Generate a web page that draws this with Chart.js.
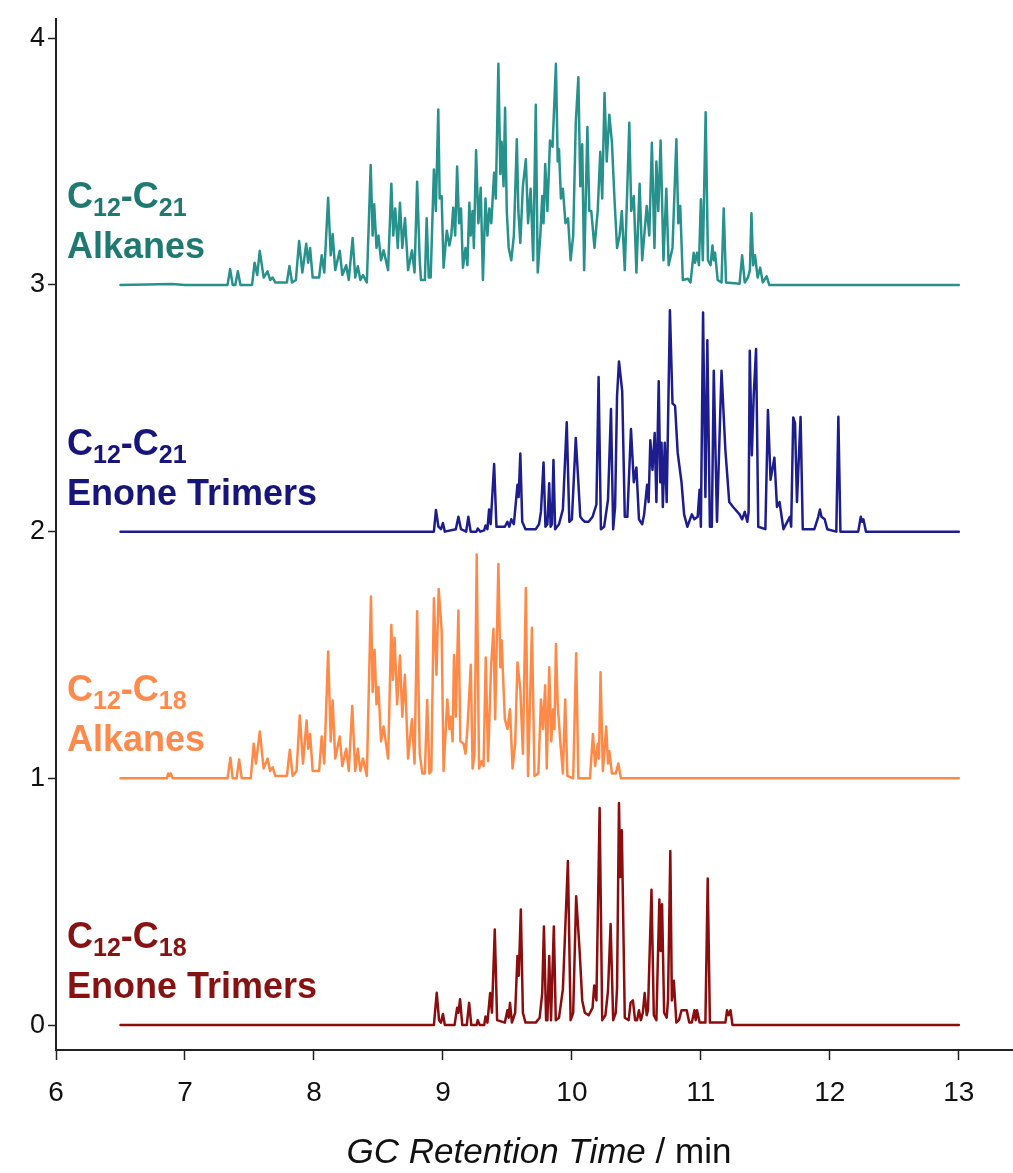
<!DOCTYPE html>
<html>
<head>
<meta charset="utf-8">
<script src="https://cdn.jsdelivr.net/npm/chart.js@4.4.1/dist/chart.umd.min.js"></script>
<style>
  html, body { margin: 0; padding: 0; background: #fff; }
  #chart { display: block; }
</style>
</head>
<body>
<canvas id="chart" width="1013" height="1173"></canvas>
<script>
// [retention time (min), signal] vertices
var alkanesC21 = [
  [6.5,0],[6.9,0.004],[7.0,0],[7.33,0],[7.35,0.064],[7.37,0],[7.39,0],[7.41,0.055],[7.43,0],
  [7.52,0],[7.54,0.09],[7.56,0.04],[7.58,0.138],[7.61,0.03],[7.64,0.055],[7.66,0.02],[7.68,0.03],[7.70,0.01],
  [7.79,0.01],[7.81,0.077],[7.83,0.01],[7.86,0.02],[7.885,0.178],[7.91,0.05],[7.94,0.167],[7.955,0.09],[7.97,0.15],
  [7.99,0.03],[8.04,0.03],[8.06,0.12],[8.08,0.05],[8.11,0.353],[8.13,0.12],[8.145,0.206],[8.165,0.06],[8.2,0.138],
  [8.22,0.04],[8.25,0.08],[8.27,0.02],[8.30,0.19],[8.32,0.03],[8.34,0.076],[8.36,0.02],[8.38,0.04],[8.41,0.01],
  [8.44,0.486],[8.455,0.2],[8.467,0.327],[8.485,0.15],[8.50,0.2],[8.52,0.1],[8.54,0.14],[8.575,0.06],[8.60,0.41],
  [8.615,0.2],[8.63,0.31],[8.65,0.15],[8.667,0.333],[8.685,0.15],[8.706,0.27],[8.73,0.06],[8.76,0.14],[8.78,0.05],
  [8.80,0.418],[8.82,0.1],[8.83,0.02],[8.86,0.02],[8.874,0.27],[8.89,0.03],[8.905,0.03],[8.93,0.468],[8.945,0.3],
  [8.964,0.711],[8.975,0.35],[8.99,0.36],[9.005,0.07],[9.03,0.22],[9.05,0.16],[9.065,0.2],[9.08,0.313],[9.095,0.2],
  [9.11,0.48],[9.125,0.25],[9.14,0.31],[9.155,0.07],[9.175,0.15],[9.19,0.08],[9.205,0.333],[9.215,0.2],[9.23,0.3],
  [9.24,0.15],[9.257,0.546],[9.275,0.25],[9.293,0.394],[9.31,0.02],[9.33,0.35],[9.345,0.2],[9.36,0.31],[9.375,0.25],
  [9.397,0.455],[9.41,0.35],[9.43,0.896],[9.445,0.45],[9.455,0.58],[9.47,0.4],[9.482,0.718],[9.495,0.3],[9.51,0.15],
  [9.53,0.1],[9.55,0.2],[9.573,0.59],[9.585,0.3],[9.60,0.17],[9.62,0.4],[9.643,0.509],[9.66,0.25],[9.68,0.39],
  [9.70,0.1],[9.72,0.73],[9.735,0.05],[9.755,0.2],[9.77,0.36],[9.78,0.25],[9.793,0.49],[9.81,0.3],[9.83,0.585],
  [9.85,0.56],[9.876,0.896],[9.89,0.5],[9.90,0.55],[9.915,0.35],[9.93,0.39],[9.95,0.25],[9.97,0.27],[9.99,0.1],
  [10.01,0.2],[10.03,0.657],[10.05,0.842],[10.065,0.4],[10.08,0.57],[10.095,0.06],[10.12,0.64],[10.135,0.3],
  [10.15,0.3],[10.175,0.15],[10.2,0.3],[10.22,0.54],[10.235,0.35],[10.253,0.778],[10.27,0.5],[10.29,0.69],
  [10.31,0.58],[10.33,0.35],[10.35,0.15],[10.37,0.2],[10.387,0.3],[10.41,0.06],[10.445,0.657],[10.46,0.3],
  [10.48,0.36],[10.50,0.05],[10.525,0.41],[10.545,0.1],[10.58,0.32],[10.60,0.2],[10.62,0.576],[10.64,0.15],
  [10.655,0.5],[10.67,0.3],[10.688,0.585],[10.71,0.1],[10.732,0.39],[10.75,0.08],[10.78,0.15],[10.81,0.59],
  [10.825,0.25],[10.84,0.32],[10.86,0.02],[10.90,0.025],[10.92,0.01],[10.944,0.13],[10.955,0.09],[10.97,0.13],
  [10.985,0.08],[11.0,0.347],[11.015,0.1],[11.037,0.70],[11.055,0.1],[11.075,0.08],[11.09,0.16],[11.1,0.1],
  [11.11,0.13],[11.13,0.02],[11.16,0.01],[11.177,0.31],[11.195,0.01],[11.30,0.005],[11.32,0.12],[11.34,0.01],
  [11.365,0.03],[11.38,0.06],[11.392,0.29],[11.405,0.08],[11.42,0.12],[11.44,0.03],[11.46,0.07],[11.48,0.01],
  [11.51,0.035],[11.53,0],[13.0,0]
];

var trimersC21 = [
  [6.5,0],[8.93,0],[8.946,0.088],[8.965,0.02],[8.985,0.01],[9.0,0.035],[9.015,0],[9.10,0.01],[9.12,0.06],[9.14,0.01],
  [9.18,0],[9.197,0.06],[9.215,0],[9.26,0],[9.27,0.013],[9.29,0],[9.32,0.005],[9.33,0.025],[9.345,0.01],[9.358,0.09],
  [9.37,0.03],[9.397,0.274],[9.415,0.02],[9.48,0.02],[9.5,0.04],[9.515,0.02],[9.53,0.05],[9.55,0.03],[9.578,0.19],
  [9.587,0.14],[9.6,0.317],[9.615,0.04],[9.64,0.01],[9.70,0.01],[9.72,0.01],[9.745,0.03],[9.76,0.08],[9.78,0.28],
  [9.795,0.02],[9.81,0.03],[9.824,0.196],[9.835,0.02],[9.845,0.03],[9.857,0.29],[9.87,0.01],[9.90,0.03],[9.93,0.09],
  [9.96,0.443],[9.98,0.04],[10.0,0.05],[10.03,0.38],[10.05,0.2],[10.065,0.06],[10.08,0.05],[10.1,0.04],[10.13,0.04],
  [10.16,0.06],[10.19,0.11],[10.207,0.627],[10.225,0.01],[10.25,0.02],[10.28,0.13],[10.303,0.497],[10.32,0.01],
  [10.335,0.1],[10.35,0.55],[10.365,0.69],[10.39,0.57],[10.41,0.06],[10.43,0.06],[10.458,0.416],[10.48,0.2],
  [10.50,0.26],[10.52,0.05],[10.545,0.03],[10.56,0.07],[10.583,0.19],[10.595,0.12],[10.608,0.37],[10.625,0.25],
  [10.642,0.4],[10.655,0.12],[10.673,0.61],[10.685,0.2],[10.695,0.36],[10.705,0.1],[10.72,0.36],[10.735,0.12],
  [10.76,0.897],[10.78,0.52],[10.80,0.51],[10.82,0.32],[10.85,0.2],[10.87,0.07],[10.895,0.02],[10.93,0.07],
  [10.95,0.05],[10.975,0.06],[10.99,0.17],[11.0,0.02],[11.017,0.888],[11.035,0.14],[11.05,0.776],[11.07,0.02],
  [11.085,0.02],[11.10,0.652],[11.125,0.04],[11.16,0.652],[11.19,0.33],[11.22,0.12],[11.25,0.1],[11.30,0.07],
  [11.32,0.05],[11.34,0.08],[11.36,0.04],[11.37,0.08],[11.379,0.733],[11.395,0.31],[11.41,0.557],[11.428,0.74],
  [11.445,0.02],[11.50,0.01],[11.52,0.493],[11.54,0.21],[11.57,0.3],[11.59,0.1],[11.61,0.12],[11.64,0.01],
  [11.69,0.06],[11.70,0.02],[11.716,0.463],[11.73,0.44],[11.745,0.12],[11.773,0.465],[11.79,0.01],[11.88,0.01],
  [11.91,0.06],[11.923,0.09],[11.935,0.06],[11.96,0.05],[11.98,0.01],[12.05,0],[12.066,0.466],[12.082,0],
  [12.22,0],[12.24,0.06],[12.25,0.04],[12.26,0.05],[12.28,0],[13.0,0]
];

var alkanesC18 = [
  [6.5,0],[6.86,0],[6.87,0.02],[6.88,0.01],[6.89,0.02],[6.905,0],[7.33,0],[7.352,0.084],[7.37,0],[7.40,0],
  [7.42,0.076],[7.44,0],[7.51,0],[7.533,0.14],[7.55,0.06],[7.58,0.19],[7.61,0.04],[7.64,0.08],[7.66,0.03],
  [7.68,0.045],[7.70,0.01],[7.79,0.01],[7.813,0.116],[7.835,0.01],[7.865,0.03],[7.89,0.255],[7.915,0.06],
  [7.943,0.235],[7.955,0.12],[7.97,0.18],[7.99,0.03],[8.04,0.03],[8.06,0.17],[8.08,0.06],[8.11,0.514],[8.13,0.15],
  [8.145,0.316],[8.165,0.08],[8.2,0.17],[8.22,0.05],[8.25,0.12],[8.27,0.03],[8.297,0.293],[8.32,0.03],[8.34,0.12],
  [8.36,0.03],[8.38,0.08],[8.41,0.01],[8.442,0.737],[8.455,0.35],[8.47,0.52],[8.485,0.3],[8.50,0.37],[8.52,0.15],
  [8.54,0.21],[8.575,0.08],[8.60,0.622],[8.612,0.4],[8.625,0.57],[8.645,0.3],[8.667,0.498],[8.685,0.25],
  [8.705,0.42],[8.73,0.08],[8.76,0.24],[8.78,0.06],[8.80,0.677],[8.82,0.1],[8.84,0.02],[8.86,0.02],[8.878,0.318],
  [8.895,0.02],[8.91,0.03],[8.93,0.73],[8.95,0.42],[8.967,0.768],[8.99,0.6],[9.005,0.03],[9.034,0.32],[9.05,0.2],
  [9.06,0.25],[9.075,0.15],[9.086,0.5],[9.10,0.25],[9.12,0.68],[9.135,0.15],[9.16,0.14],[9.175,0.1],[9.19,0.2],
  [9.216,0.46],[9.23,0.04],[9.245,0.1],[9.262,0.907],[9.28,0.04],[9.30,0.07],[9.315,0.05],[9.332,0.49],[9.35,0.07],
  [9.373,0.45],[9.392,0.606],[9.405,0.24],[9.43,0.869],[9.445,0.45],[9.455,0.56],[9.48,0.24],[9.50,0.2],
  [9.52,0.28],[9.54,0.04],[9.56,0.14],[9.578,0.47],[9.60,0.36],[9.62,0.1],[9.643,0.772],[9.66,0.01],[9.69,0.61],
  [9.71,0.01],[9.74,0.02],[9.76,0.32],[9.775,0.2],[9.793,0.377],[9.805,0.04],[9.824,0.45],[9.84,0.15],[9.855,0.28],
  [9.865,0.2],[9.876,0.545],[9.89,0.3],[9.91,0.15],[9.93,0.02],[9.948,0.32],[9.965,0.01],[10.01,0],[10.033,0.507],
  [10.05,0],[10.14,0],[10.163,0.18],[10.18,0.05],[10.2,0.14],[10.21,0.08],[10.222,0.43],[10.24,0.03],[10.266,0.21],
  [10.28,0.06],[10.29,0.11],[10.31,0.02],[10.34,0.02],[10.36,0.06],[10.38,0],[13.0,0]
];

var trimersC18 = [
  [6.5,0],[8.93,0],[8.952,0.131],[8.97,0.02],[8.985,0.01],[9.0,0.045],[9.015,0],[9.09,0],[9.11,0.07],[9.12,0.05],
  [9.133,0.105],[9.15,0],[9.185,0],[9.203,0.09],[9.22,0],[9.26,0],[9.27,0.02],[9.285,0],[9.32,0],[9.33,0.035],
  [9.345,0.01],[9.366,0.13],[9.38,0.05],[9.402,0.387],[9.42,0.02],[9.48,0.01],[9.50,0.06],[9.51,0.03],[9.52,0.09],
  [9.535,0.01],[9.56,0.05],[9.578,0.28],[9.588,0.2],[9.604,0.468],[9.62,0.05],[9.64,0.01],[9.70,0.01],[9.72,0.01],
  [9.75,0.03],[9.77,0.13],[9.783,0.40],[9.80,0.02],[9.81,0.02],[9.824,0.28],[9.838,0.02],[9.845,0.02],[9.86,0.40],
  [9.875,0.02],[9.90,0.03],[9.93,0.145],[9.969,0.665],[9.99,0.02],[10.01,0.05],[10.033,0.522],[10.06,0.3],
  [10.08,0.1],[10.10,0.05],[10.13,0.04],[10.16,0.07],[10.173,0.16],[10.19,0.1],[10.215,0.88],[10.235,0.02],
  [10.26,0.04],[10.28,0.14],[10.30,0.41],[10.32,0.02],[10.34,0.05],[10.35,0.15],[10.365,0.90],[10.375,0.6],
  [10.387,0.79],[10.41,0.03],[10.44,0.02],[10.455,0.09],[10.473,0.10],[10.49,0.02],[10.505,0.02],[10.52,0.06],
  [10.535,0.02],[10.55,0.05],[10.564,0.13],[10.58,0.04],[10.59,0.06],[10.617,0.549],[10.635,0.04],[10.655,0.02],
  [10.678,0.509],[10.688,0.3],[10.699,0.49],[10.715,0.05],[10.735,0.03],[10.745,0.1],[10.763,0.706],[10.775,0.1],
  [10.79,0.18],[10.81,0.01],[10.83,0.02],[10.85,0.06],[10.87,0.06],[10.89,0.06],[10.91,0.01],[10.93,0.01],
  [10.95,0.06],[10.96,0.02],[10.97,0.06],[10.99,0.01],[11.035,0.01],[11.053,0.594],[11.07,0.01],[11.19,0.01],
  [11.203,0.06],[11.215,0.04],[11.23,0.06],[11.245,0],[13.0,0]
];

var traces = [alkanesC21, trimersC21, alkanesC18, trimersC18];
var traceOffsets = [3, 2, 1, 0];
var carbonRanges = [['12', '21'], ['12', '21'], ['12', '18'], ['12', '18']];
var productNames = ['Alkanes', 'Enone Trimers', 'Alkanes', 'Enone Trimers'];
var traceColors = ['#27918b', '#1d1d8e', '#ff8a48', '#8c0d0d'];
var labelColors = ['#1e7a71', '#16167a', '#ff8a4c', '#861212'];
var xTickValues = [6, 7, 8, 9, 10, 11, 12, 13];
var yTickValues = [0, 1, 2, 3, 4];

var FONT = '"Liberation Sans", Arial, Helvetica, sans-serif';

// stacked chromatograms: each trace sits on its own offset
var datasets = traces.map(function(trace, i) {
    return {
        data: trace.map(function(p) { return {x: p[0], y: p[1] + traceOffsets[i]}; }),
        borderColor: traceColors[i],
        borderWidth: 2.5,
        borderJoinStyle: 'round',
        borderCapStyle: 'round',
        pointRadius: 0,
        fill: false,
        tension: 0
    };
});

// "C12-C21" / "Alkanes" style labels left of each trace
const traceLabels = {
    id: 'traceLabels',
    afterDatasetsDraw(chart) {
        var ctx = chart.ctx;
        var yScale = chart.scales.y;
        ctx.save();
        ctx.textAlign = 'left';
        ctx.textBaseline = 'alphabetic';
        var big = 'bold 36px ' + FONT;
        var small = 'bold 25px ' + FONT;
        traceOffsets.forEach(function(off, i) {
            var base = yScale.getPixelForValue(off);
            var x = 67;
            var line1 = base - 77;
            var line2 = base - 27;
            ctx.fillStyle = labelColors[i];
            var parts = [['C', big, 0], [carbonRanges[i][0], small, 8], ['-C', big, 0], [carbonRanges[i][1], small, 8]];
            parts.forEach(function(p) {
                ctx.font = p[1];
                ctx.fillText(p[0], x, line1 + p[2]);
                x += ctx.measureText(p[0]).width;
            });
            ctx.font = big;
            ctx.fillText(productNames[i], 67, line2);
        });
        ctx.restore();
    },
    afterDraw(chart) {
        // axis title: italic quantity, upright unit
        var ctx = chart.ctx;
        ctx.save();
        ctx.fillStyle = '#111';
        ctx.textBaseline = 'alphabetic';
        var a = 'GC Retention Time', b = ' / min';
        ctx.font = 'italic 35px ' + FONT;
        var wa = ctx.measureText(a).width;
        ctx.font = '35px ' + FONT;
        var wb = ctx.measureText(b).width;
        var x0 = 539 - (wa + wb) / 2;
        ctx.font = 'italic 35px ' + FONT;
        ctx.fillText(a, x0, 1163);
        ctx.font = '35px ' + FONT;
        ctx.fillText(b, x0 + wa, 1163);
        ctx.restore();
    }
};

new Chart(document.getElementById('chart'), {
    type: 'line',
    data: { datasets: datasets },
    plugins: [traceLabels],
    options: {
        responsive: false,
        animation: false,
        parsing: false,
        layout: { padding: { top: 0, right: 0, left: 0, bottom: 0 } },
        plugins: {
            legend: { display: false },
            tooltip: { enabled: false }
        },
        scales: {
            x: {
                type: 'linear',
                min: 6,
                max: 13.42,
                afterBuildTicks: function(axis) { axis.ticks = xTickValues.map(function(v) { return {value: v}; }); },
                afterFit: function(axis) { axis.height = 123; },
                grid: { drawOnChartArea: false, drawTicks: true, tickLength: 10, tickWidth: 1.5, tickColor: '#222' },
                border: { display: true, color: '#222', width: 2 },
                ticks: { color: '#111', font: { family: FONT, size: 28 }, padding: 16, maxRotation: 0, autoSkip: false }
            },
            y: {
                type: 'linear',
                min: -0.101,
                max: 4.077,
                afterBuildTicks: function(axis) { axis.ticks = yTickValues.map(function(v) { return {value: v}; }); },
                afterFit: function(axis) { axis.width = 56; },
                grid: { drawOnChartArea: false, drawTicks: true, tickLength: 8, tickWidth: 1.5, tickColor: '#222' },
                border: { display: true, color: '#222', width: 2 },
                ticks: { color: '#111', font: { family: FONT, size: 27 }, padding: 3 }
            }
        }
    }
});
</script>
</body>
</html>
